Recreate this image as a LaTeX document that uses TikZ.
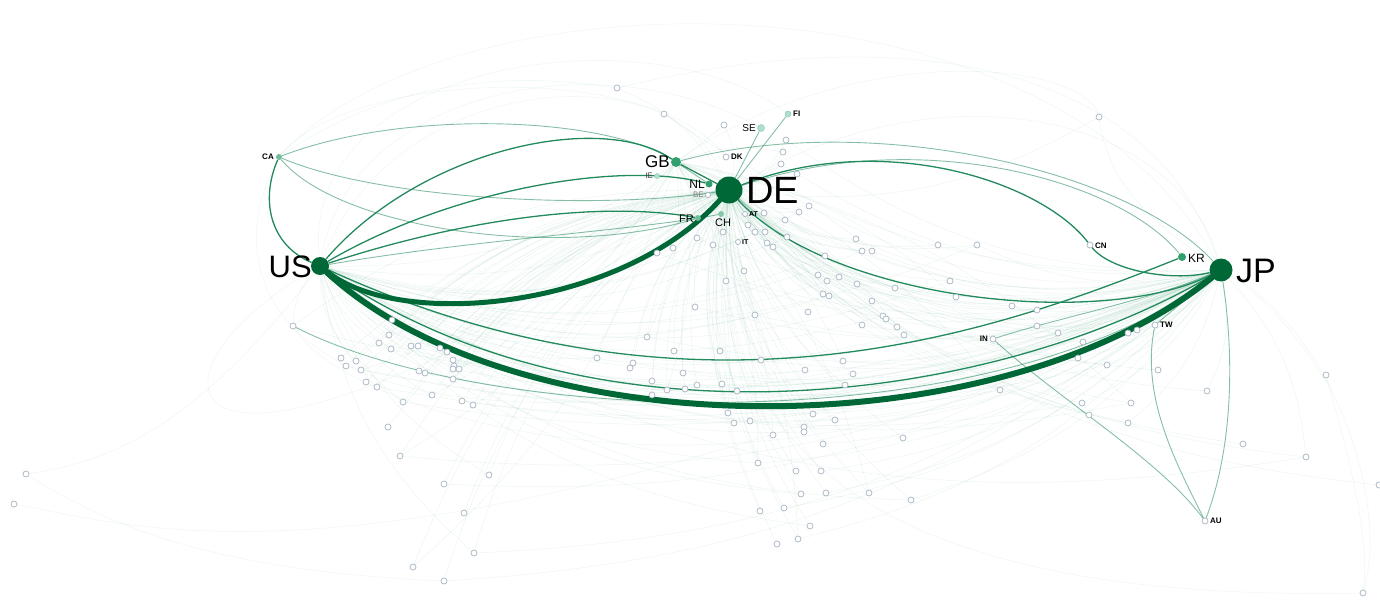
\documentclass[tikz,border=0pt]{standalone}
\usepackage{fontspec}
\setmainfont{Liberation Sans}
\definecolor{hubg}{RGB}{0,104,55}
\definecolor{medg}{RGB}{34,138,92}
\definecolor{midg}{RGB}{50,160,110}
\definecolor{lightg}{RGB}{140,205,180}
\definecolor{paleg}{RGB}{178,222,207}
\definecolor{faintg}{RGB}{80,165,128}
\definecolor{ring}{RGB}{168,180,196}
\pgfdeclarelayer{faintl}
\pgfdeclarelayer{edgel}
\pgfdeclarelayer{smalll}
\pgfsetlayers{faintl,edgel,smalll,main}
\begin{document}
\begin{tikzpicture}[x=1pt,y=-1pt,
  hub/.style={circle,fill=hubg,inner sep=0pt},
  cnode/.style={circle,fill=midg,inner sep=0pt},
  pnode/.style={circle,fill=paleg,draw=lightg,line width=0.5pt,inner sep=0pt},
  opn/.style={circle,draw=ring,fill=white,line width=0.7pt,inner sep=0pt,minimum size=6pt},
  lab/.style={inner sep=0pt,text=black},
  slab/.style={inner sep=0pt,text=black,font=\bfseries\fontsize{8}{8}\selectfont},
  faint/.style={draw=faintg,opacity=0.11,line width=0.5pt},
  ghost/.style={draw=faintg,opacity=0.08,line width=0.7pt},
  med/.style={draw=medg,line width=1.3pt},
  lmed/.style={draw=medg,line width=0.9pt,opacity=0.55},
  heavy/.style={draw=hubg,line cap=round}
]
\useasboundingbox (0,0) rectangle (1380,602);

% country nodes
\node[hub,minimum size=27pt] (DE) at (729,190) {};
\node[hub,minimum size=18pt] (US) at (320,266) {};
\node[hub,minimum size=23pt] (JP) at (1221,270) {};
\node[cnode,minimum size=10pt] (GB) at (676,162) {};
\node[cnode,minimum size=7pt] (NL) at (709,184) {};
\node[cnode,fill=midg!70,minimum size=6pt] (FR) at (698,218) {};
\node[cnode,fill=midg!60,minimum size=6pt] (CH) at (721,214) {};
\node[opn,minimum size=5pt] (BE) at (708,195) {};
\node[pnode,minimum size=5pt] (IE) at (657,176) {};
\node[opn,minimum size=6pt] (DK) at (726,157) {};
\node[pnode,minimum size=7pt] (SE) at (761,128) {};
\node[pnode,minimum size=6pt] (FI) at (788,114) {};
\node[opn,minimum size=5pt] (AT) at (745,214) {};
\node[opn,minimum size=5pt] (IT) at (738,242) {};
\node[cnode,fill=midg!70,minimum size=6pt] (CA) at (279,157) {};
\node[opn] (CN) at (1090,245) {};
\node[cnode,minimum size=8pt] (KR) at (1182,257) {};
\node[opn] (TW) at (1155,325) {};
\node[opn] (IN) at (993,339) {};
\node[opn] (AU) at (1205,521) {};
\node[opn] (far1) at (26,474) {};
\node[opn] (far2) at (14,504) {};
\node[opn] (far3) at (1363,593) {};
\node[opn] (far4) at (1326,375) {};

% labels
\node[lab,font=\fontsize{31}{31}\selectfont,anchor=east] (USl) at (312,267) {US};
\node[lab,font=\fontsize{38}{38}\selectfont,anchor=west] (DEl) at (746,190) {DE};
\node[lab,font=\fontsize{34}{34}\selectfont,anchor=west] (JPl) at (1236,271) {JP};
\node[lab,font=\fontsize{17}{17}\selectfont,anchor=east] (GBl) at (670,162) {GB};
\node[lab,font=\fontsize{12}{12}\selectfont,anchor=east] (NLl) at (705,184) {NL};
\node[lab,font=\fontsize{8}{8}\selectfont,text=gray,anchor=east] (BEl) at (704,195) {BE};
\node[lab,font=\fontsize{8}{8}\selectfont,text=darkgray,anchor=east] (IEl) at (653,176) {IE};
\node[lab,font=\fontsize{11}{11}\selectfont,anchor=east] (FRl) at (694,219) {FR};
\node[lab,font=\fontsize{11}{11}\selectfont,anchor=north] (CHl) at (723,219) {CH};
\node[slab,anchor=west] (DKl) at (731,157) {DK};
\node[lab,font=\fontsize{10}{10}\selectfont,anchor=east] (SEl) at (756,128) {SE};
\node[slab,anchor=west] (FIl) at (793,114) {FI};
\node[slab,font=\bfseries\fontsize{7}{7}\selectfont,anchor=west] (ATl) at (749,214) {AT};
\node[slab,font=\bfseries\fontsize{7}{7}\selectfont,anchor=west] (ITl) at (742,242) {IT};
\node[slab,anchor=east] (CAl) at (274,157) {CA};
\node[slab,anchor=west] (CNl) at (1095,246) {CN};
\node[lab,font=\fontsize{12}{12}\selectfont,anchor=west] (KRl) at (1188,258) {KR};
\node[slab,anchor=west] (TWl) at (1160,325) {TW};
\node[slab,anchor=east] (INl) at (988,339) {IN};
\node[slab,anchor=west] (AUl) at (1210,521) {AU};

% minor nodes with faint links
\foreach \px/\py [count=\i] in {617/88, 664/114, 724/125, 786/140, 783/152, 781/164, 797/174, 809/206, 799/212, 764/213, 748/225, 755/232, 765/232, 785/220, 787/237, 767/243, 773/247, 723/232, 713/245, 697/238, 673/248, 657/253, 1099/117,
 293/326, 389/335, 379/343, 391/349, 411/346, 418/346, 440/348, 447/352, 453/360, 454/366, 453/369, 459/369, 453/379, 341/358, 346/366, 356/361, 361/370, 366/382, 377/387, 419/371, 425/373, 432/395, 462/401, 473/405, 403/402, 388/427, 400/456, 489/475, 444/484, 464/513, 474/553, 413/567, 444/581, 597/358, 633/363, 630/368, 647/337, 674/351, 683/373, 652/381, 695/307, 667/390, 685/389, 697/385,
 856/239, 862/251, 872/251, 938/245, 977/245, 744/271, 726/281, 825/256, 818/275, 827/281, 839/277, 857/284, 823/294, 829/296, 872/301, 895/288, 950/281, 956/297, 1012/306, 1037/310, 1037/326, 1058/333, 755/315, 808/312, 862/325, 883/316, 886/319, 897/327, 904/335, 720/351, 761/360, 805/370, 843/361, 853/374, 845/385, 722/384, 737/391, 1000/390, 1078/358, 1083/342, 1082/403, 1089/415, 728/413, 734/423, 750/421, 813/414, 835/420, 773/435, 804/427, 804/432, 823/444, 903/438, 758/463, 796/471, 821/471, 801/494, 826/493, 869/493, 911/500, 760/511, 784/508, 810/526, 798/539, 777/544,
 1107/365, 1158/370, 1207/391, 1131/403, 1128/423, 1243/444, 1306/457, 1379/485, 392/320, 652/395, 1128/333, 1137/330}
{
  \begin{pgfonlayer}{smalll}
    \node[opn] (s\i) at (\px,\py) {};
  \end{pgfonlayer}
  \begin{pgfonlayer}{faintl}
    \draw[faint] (DE) to[bend right=18] (s\i);
    \pgfmathtruncatemacro\mtwo{mod(\i,2)}
    \ifnum\mtwo=0 \draw[faint] (JP) to[bend left=18] (s\i); \fi
    \pgfmathtruncatemacro\mthree{mod(\i,3)}
    \ifnum\mthree=0 \draw[faint] (US) to[bend right=20] (s\i); \fi
    \pgfmathtruncatemacro\mfive{mod(\i,5)}
    \ifnum\mfive=0 \draw[faint] (GB) to[bend left=15] (s\i); \fi
  \end{pgfonlayer}
}

% ghost arcs
\begin{pgfonlayer}{faintl}
\draw[ghost] (CA) .. controls (450,-30) and (1050,-40) .. (JP);
\draw[ghost] (US) .. controls (300,60) and (650,10) .. (FI);
\draw[ghost] (US) .. controls (350,90) and (600,40) .. (SE);
\draw[ghost] (CA) .. controls (350,70) and (650,60) .. (DK);
\draw[ghost] (US) .. controls (380,110) and (560,70) .. (s2);
\draw[ghost] (DE) .. controls (950,60) and (1180,120) .. (JP);
\draw[ghost] (s1) .. controls (900,20) and (1150,60) .. (JP);
\draw[ghost] (CA) .. controls (420,60) and (560,80) .. (s1);
\draw[ghost] (s23) .. controls (1110,200) and (1180,240) .. (JP);
\draw[ghost] (GB) .. controls (850,40) and (1080,60) .. (s23);
\draw[ghost] (far1) .. controls (120,460) and (200,420) .. (US);
\draw[ghost] (far1) .. controls (100,520) and (200,570) .. (s56);
\draw[ghost] (far2) .. controls (150,530) and (400,610) .. (JP);
\draw[ghost] (JP) .. controls (1330,330) and (1390,500) .. (far3);
\draw[ghost] (JP) .. controls (1300,320) and (1330,400) .. (far4);
\draw[ghost] (far4) .. controls (1350,460) and (1370,540) .. (far3);
\draw[ghost] (US) .. controls (120,380) and (160,560) .. (DE);
\draw[ghost] (CA) .. controls (200,300) and (300,560) .. (JP);
\draw[ghost] (s24) .. controls (350,420) and (800,560) .. (JP);
\draw[ghost] (DE) .. controls (700,520) and (1000,600) .. (far3);
\end{pgfonlayer}

% main connectors
\begin{pgfonlayer}{edgel}
\draw[lmed] (CA) .. controls (400,110) and (600,115) .. (GB);
\draw[lmed] (CA) .. controls (340,230) and (560,260) .. (FR);
\draw[lmed] (CA) .. controls (380,200) and (600,210) .. (DE);
\draw[med] (CA) .. controls (260,200) and (270,245) .. (US);
\draw[med] (US) .. controls (420,150) and (600,110) .. (GB);
\draw[med] (US) .. controls (450,190) and (620,160) .. (NL);
\draw[med] (US) .. controls (460,220) and (600,200) .. (FR);
\draw[lmed] (US) .. controls (470,240) and (640,230) .. (CH);
\draw[med] (GB) -- (DE);
\draw[lmed] (GB) -- (NL);
\draw[lmed] (GB) .. controls (870,110) and (1130,170) .. (JP);
\draw[med] (DE) .. controls (880,130) and (1040,180) .. (CN);
\draw[med] (CN) .. controls (1110,270) and (1170,282) .. (JP);
\draw[lmed] (DE) .. controls (920,125) and (1120,180) .. (KR);
\draw[med] (DE) .. controls (830,300) and (1100,330) .. (JP);
\draw[med] (US) .. controls (700,440) and (1000,330) .. (KR);
\draw[med] (US) .. controls (600,460) and (1000,400) .. (JP);
\draw[lmed] (s24) .. controls (500,430) and (1000,440) .. (JP);
\draw[lmed] (IN) .. controls (1050,320) and (1150,300) .. (JP);
\draw[lmed] (TW) -- (JP);
\draw[lmed] (JP) .. controls (1235,360) and (1232,450) .. (AU);
\draw[lmed] (TW) .. controls (1140,400) and (1180,470) .. (AU);
\draw[lmed] (IN) .. controls (1060,400) and (1160,460) .. (AU);
\draw[lmed] (SE) -- (DE);
\draw[lmed] (FI) -- (DE);
\draw[heavy,line width=6pt] (US) .. controls (520,450) and (1000,450) .. (JP);
\draw[heavy,line width=5pt] (US) .. controls (400,330) and (620,310) .. (DE);
\end{pgfonlayer}
\end{tikzpicture}
\end{document}
